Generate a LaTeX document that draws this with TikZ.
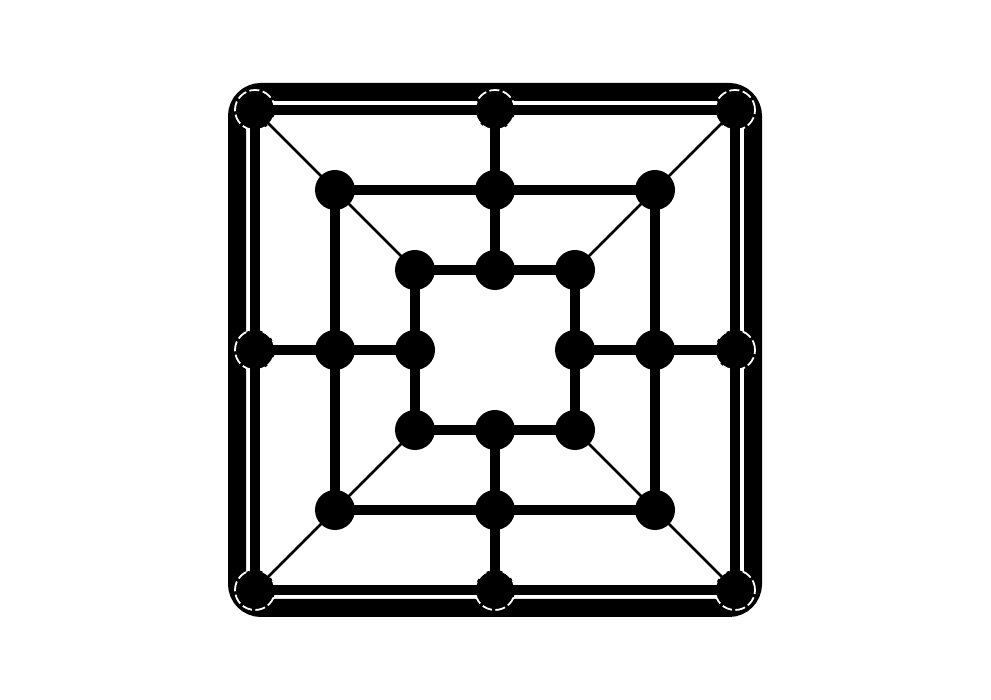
\documentclass[tikz,border=0pt]{standalone}
\usepackage{tikz}
\begin{document}
\begin{tikzpicture}[x=1pt,y=1pt,
  spot/.style={circle,fill=black,inner sep=0pt,minimum size=40pt},
  rimspot/.style={spot,draw=white,line width=1.8pt,dash pattern=on 10pt off 3.5pt},
  ringline/.style={line width=10.5pt},
  diagline/.style={line width=2.8pt}]

\useasboundingbox (0,0) rectangle (991,700);

\pgfmathsetmacro{\cx}{495}
\pgfmathsetmacro{\cy}{350}
\pgfmathsetmacro{\gap}{80}

% Frame
\draw[line width=18pt, rounded corners=24pt] (\cx-258,\cy-258) rectangle (\cx+258,\cy+258);

% Points of the three squares
\foreach \r/\sty in {1/spot,2/spot,3/rimspot}{
  \pgfmathsetmacro{\s}{\gap*\r}
  \foreach \name/\dx/\dy in {nw/-1/1, n/0/1, ne/1/1, e/1/0, se/1/-1, s/0/-1, sw/-1/-1, w/-1/0}{
    \node[\sty] (r\r-\name) at (\cx+\dx*\s,\cy+\dy*\s) {}; % Marked point
  }
}

% Squares
\foreach \r in {1,2,3}
  \draw[ringline] (r\r-nw.center) -- (r\r-ne.center) -- (r\r-se.center) -- (r\r-sw.center) -- cycle;

% Cross lines
\foreach \m in {n,e,s,w}
  \draw[ringline] (r3-\m.center) -- (r2-\m.center) -- (r1-\m.center);

% Diagonals
\foreach \c in {nw,ne,se,sw}
  \draw[diagline] (r3-\c.center) -- (r2-\c.center) -- (r1-\c.center);

\end{tikzpicture}
\end{document}
